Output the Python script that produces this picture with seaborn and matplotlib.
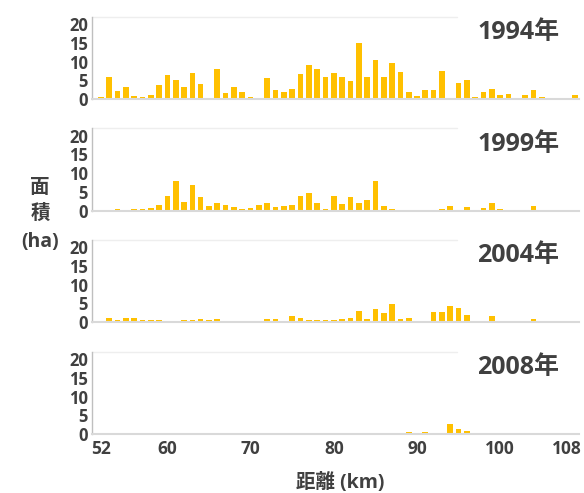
import matplotlib
matplotlib.use('Agg')
import matplotlib.pyplot as plt
import seaborn as sns
import pandas as pd

km = list(range(52, 110))

a1994 = [0.5, 6.0, 2.1, 3.3, 0.8, 0.6, 1.0, 3.7, 6.4, 5.2,
         3.3, 7.0, 3.9, 0, 8.0, 1.6, 3.1, 1.8, 0.6, 0.1,
         5.5, 2.5, 1.8, 2.6, 6.7, 9.2, 8.1, 6.0, 7.0, 5.9,
         4.8, 14.9, 6.0, 10.4, 5.9, 9.5, 7.3, 1.8, 0.8, 2.4,
         2.3, 7.6, 0, 4.4, 5.2, 0.6, 2.0, 2.6, 1.0, 1.3,
         0, 1.1, 2.3, 0.6, 0.3, 0, 0, 1.2]
a1999 = [0.2, 0.2, 0.5, 0.2, 0.3, 0.35, 0.6, 1.5, 3.9, 8.0,
         2.3, 6.8, 3.7, 1.1, 1.9, 1.6, 0.9, 0.3, 0.6, 1.6,
         1.9, 0.9, 1.2, 1.6, 3.9, 4.7, 2.0, 0.5, 3.9, 1.7,
         3.5, 1.9, 2.9, 7.9, 1.2, 0.4, 0.2, 0.1, 0.2, 0,
         0, 0.3, 1.3, 0.2, 0.9, 0.2, 0.6, 1.9, 0.4, 0.2,
         0, 0.2, 1.3, 0, 0, 0, 0, 0]
a2004 = [0.3, 1.1, 0.45, 1.2, 1.2, 0.5, 0.6, 0.6, 0.2, 0.2,
         0.45, 0.45, 0.7, 0.5, 0.9, 0.2, 0.2, 0, 0, 0,
         0.7, 0.7, 0.2, 1.6, 1.2, 0.5, 0.5, 0.45, 0.45, 0.7,
         1.2, 3.0, 0.8, 3.6, 2.4, 4.8, 0.7, 1.2, 0.3, 0.3,
         2.8, 2.8, 4.3, 3.7, 2.0, 0.3, 0.3, 1.7, 0.3, 0.3,
         0, 0, 0.7, 0.15, 0, 0, 0, 0]
a2008 = [0, 0, 0, 0, 0, 0, 0, 0, 0, 0,
         0, 0, 0, 0, 0, 0, 0, 0, 0, 0,
         0, 0, 0, 0, 0, 0, 0, 0, 0, 0,
         0, 0, 0, 0, 0, 0, 0, 0.45, 0, 0.45,
         0.3, 0.2, 2.7, 1.25, 0.7, 0, 0, 0, 0.15, 0.15,
         0, 0, 0.3, 0.15, 0, 0, 0, 0]

years = ["1994年", "1999年", "2004年", "2008年"]
series = [a1994, a1999, a2004, a2008]
xticks = [52, 60, 70, 80, 90, 100, 108]
yticks = [0, 5, 10, 15, 20]

BAR = "#FFC000"
TXT = "#404040"

sns.set_theme(style="white")
plt.rcParams['font.family'] = ['Open Sans', 'Noto Sans CJK JP', 'DejaVu Sans']

W, H = 584, 493
fig = plt.figure(figsize=(W / 100, H / 100), dpi=100)
left, right = 92, 579
baselines = [99, 210.5, 322, 434]
panel_h = 82

for i, (year, vals) in enumerate(zip(years, series)):
    b = baselines[i]
    ax = fig.add_axes([left / W, 1 - b / H, (right - left) / W, panel_h / H])
    df = pd.DataFrame({"km": km, "ha": vals})
    sns.barplot(data=df, x="km", y="ha", native_scale=True, color=BAR,
                saturation=1, width=0.68, errorbar=None, linewidth=0,
                ax=ax)
    ax.set_xlim(50.94, 109.47)
    ax.set_ylim(0, 21.9)
    ax.set_yticks(yticks)
    ax.set_yticklabels([str(t) for t in yticks], fontsize=12,
                       fontweight="bold", color=TXT)
    ax.set_xticks(xticks)
    if i == 3:
        ax.set_xticklabels([str(t) for t in xticks], fontsize=12.5,
                           fontweight="bold", color=TXT)
    else:
        ax.set_xticklabels([])
    ax.tick_params(axis="both", length=0)
    ax.tick_params(axis="y", pad=3)
    ax.tick_params(axis="x", pad=4)
    ax.set_xlabel("")
    ax.set_ylabel("")
    for s in ["top", "right"]:
        ax.spines[s].set_visible(False)
    ax.spines["left"].set_color("#bfbfbf")
    ax.spines["left"].set_linewidth(1)
    ax.spines["bottom"].set_color("#d9d9d9")
    ax.spines["bottom"].set_linewidth(1.5)
    ax.plot([0, 0.75], [1, 1], transform=ax.transAxes, color="#eeeeee",
            lw=1, clip_on=False)
    ax.text(0.96, 0.81, year, transform=ax.transAxes, ha="right",
            va="center", fontsize=18, fontweight="bold", color=TXT)

for txt, y in zip(["面", "積", "(ha)"], [188, 214, 242]):
    fig.text(40 / W, 1 - y / H, txt, ha="center", va="center",
             fontsize=14, fontweight="bold", color=TXT)

fig.text(340 / W, 1 - 483 / H, "距離 (km)", ha="center", va="center",
         fontsize=14, fontweight="bold", color=TXT)

fig.savefig("out.png", dpi=100)
